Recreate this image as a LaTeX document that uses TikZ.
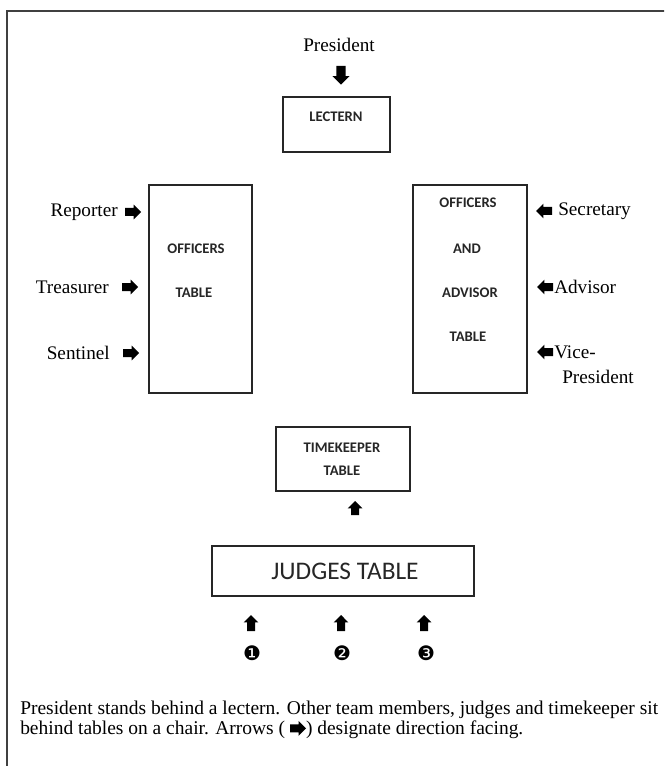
\documentclass[tikz,border=0pt]{standalone}
\usepackage{fontspec}
\setmainfont{Liberation Serif}
\newfontfamily\calib{Carlito}
\newfontfamily\djv{DejaVu Sans}
\usetikzlibrary{shapes.arrows,fit}
\tikzset{
  frameline/.style={draw=black!75, line width=1.9pt},
  tbl/.style={draw=black!85, line width=1.5pt, inner sep=0pt},
  lbl/.style={font=\calib\bfseries\fontsize{11}{13}\selectfont, inner sep=0pt, text=black!85},
  bigl/.style={font=\calib\fontsize{19}{22}\selectfont, inner sep=0pt, text=black!85},
  who/.style={font=\fontsize{14.4}{16}\selectfont, inner sep=0pt},
  arr/.style={single arrow, fill=black, draw=none, inner sep=2.8pt, minimum height=12pt,
    single arrow head extend=2.6pt, single arrow tip angle=90, anchor=center},
  dn/.style={arr, shape border rotate=270},
  upa/.style={arr, shape border rotate=90},
  lf/.style={arr, shape border rotate=180},
  num/.style={font=\djv\fontsize{15}{17}\selectfont, inner sep=0pt},
}
\begin{document}
\begin{tikzpicture}[x=0.75pt, y=-0.75pt]
\useasboundingbox (0,0) rectangle (664,766);
\clip (0,0) rectangle (664,766);
\draw[frameline] (7,800) -- (7,11) -- (700,11);

% President and lectern
\node[who] (pres) at (339,45) {President};
\node[dn, minimum height=14pt, inner sep=3.2pt, single arrow head extend=3pt] (presarr) at (341,73) {};
\node[tbl, fit={(283,97)(390,152)}] (lectern) {};
\node[lbl] (lecternt) at (336,117) {LECTERN};

% Left officers table
\node[tbl, fit={(149,185)(252,393)}] (otab) {};
\node[lbl] (otab1) at (196,249) {OFFICERS};
\node[lbl] (otab2) at (194,293) {TABLE};
\node[who, anchor=east] (reporter) at (118,212) {Reporter};
\node[arr] (reparr) at (131,212) {};
\node[who, anchor=east] (treasurer) at (109,287) {Treasurer};
\node[arr] (trearr) at (128,287) {};
\node[who, anchor=east] (sentinel) at (110,353) {Sentinel};
\node[arr] (senarr) at (129,353) {};

% Right officers and advisor table
\node[tbl, fit={(413,185)(527,393)}] (atab) {};
\node[lbl] (atab1) at (468,203) {OFFICERS};
\node[lbl] (atab2) at (467,249) {AND};
\node[lbl] (atab3) at (470,293) {ADVISOR};
\node[lbl] (atab4) at (468,337) {TABLE};
\node[lf] (secarr) at (546,211) {};
\node[who, anchor=west] (secretary) at (558,211) {Secretary};
\node[lf] (advarr) at (547,287) {};
\node[who, anchor=west] (advisor) at (554,287) {Advisor};
\node[lf] (vparr) at (547,352) {};
\node[who, anchor=west] (vp1) at (554,352) {Vice-};
\node[who, anchor=west] (vp2) at (562,377) {President};

% Timekeeper
\node[tbl, fit={(276,427)(410,491)}] (tk) {};
\node[lbl] (tk1) at (342,448) {TIMEKEEPER};
\node[lbl] (tk2) at (342,471) {TABLE};
\node[upa, minimum height=10.5pt] (tkarr) at (355,510) {};

% Judges
\node[tbl, fit={(212,546)(474,596)}] (judges) {};
\node[bigl] (judgest) at (345,571) {JUDGES TABLE};
\node[upa] (j1arr) at (251,625) {};
\node[upa] (j2arr) at (341,625) {};
\node[upa] (j3arr) at (424,625) {};
\node[num] (n1) at (252,653) {❶};
\node[num] (n2) at (342,653) {❷};
\node[num] (n3) at (426,653) {❸};

% Note
\node[who, anchor=west, align=left, font=\fontsize{14.6}{15}\selectfont] (note) at (20,720)
 {President stands behind a lectern. Other team members, judges and timekeeper sit\\
  behind tables on a chair. Arrows ( \tikz[baseline=-0.7ex]\node[arr]{};) designate direction facing.};
\end{tikzpicture}
\end{document}
